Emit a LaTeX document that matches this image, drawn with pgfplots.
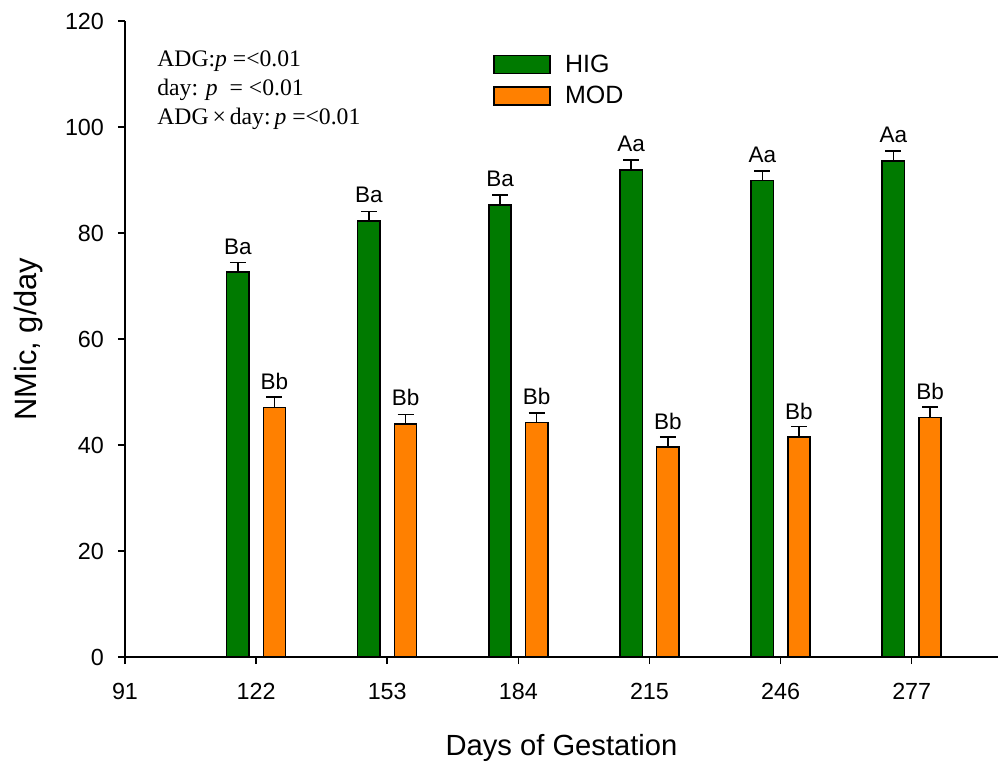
\documentclass[border=0pt]{standalone}
\usepackage{pgfplots}
\pgfplotsset{compat=1.18}
\usepackage{pgfplotstable}
\usepackage{fontspec}
\setmainfont{Liberation Sans}
\newfontfamily\seriffont{Liberation Serif}

\definecolor{higgreen}{RGB}{0,122,0}
\definecolor{modorange}{RGB}{255,128,0}

% Microbial N flow by day of gestation: mean, SE and letter groups
\pgfplotstableread{
day hig higerr higlab mod moderr modlab
122 72.6 1.8 Ba 47.1 2.0 Bb
153 82.3 1.8 Ba 44.0 1.8 Bb
184 85.3 1.9 Ba 44.2 1.8 Bb
215 91.9 1.9 Aa 39.6 1.9 Bb
246 89.9 1.8 Aa 41.5 2.0 Bb
277 93.6 1.9 Aa 45.2 2.0 Bb
}\nmic

\pgfplotsset{
  boxlegend/.style={
    legend image code/.code={%
      \draw[##1,draw=black,line width=0.9pt] (0pt,-5.4pt) rectangle (33.6pt,5.4pt);}},
}

\begin{document}
\begin{tikzpicture}
\useasboundingbox (0,0) rectangle (599.4pt,457.8pt);
\begin{axis}[
  at={(75pt,63.6pt)}, anchor=south west,
  width=523.8pt, height=381.6pt, scale only axis,
  xmin=91, xmax=297.4, ymin=0, ymax=120,
  xtick={91,122,153,184,215,246,277},
  ytick={0,20,40,60,80,100,120},
  axis x line*=bottom, axis y line*=left,
  axis line style={line width=0.9pt,-},
  tick style={line width=0.9pt,black},
  tick align=outside, major tick length=4.2pt,
  /pgf/number format/assume math mode=true,
  ticklabel style={font=\fontsize{14}{14}\selectfont},
  xticklabel style={yshift=-8pt},
  yticklabel style={xshift=-4.9pt},
  xlabel={Days of Gestation},
  ylabel={NMic, g/day},
  xlabel style={at={(axis description cs:0.5,-0.143)}, anchor=center,
    font=\fontsize{17.5}{17.5}\selectfont},
  ylabel style={at={(axis description cs:-0.11,0.5)}, anchor=center,
    font=\fontsize{18.5}{18.5}\selectfont},
  legend style={at={(axis description cs:0.4215,0.953)}, anchor=north west,
    draw=none, fill=none, inner sep=0pt, row sep=3pt,
    font=\fontsize{15}{15}\selectfont,
    /tikz/every odd column/.append style={column sep=6.6pt}},
  legend cell align=left,
  ybar, bar width=13.4pt,
  nodes near coords,
  point meta=explicit symbolic,
  every node near coord/.append style={anchor=south, inner sep=0pt, yshift=10.2pt,
    font=\fontsize{13.5}{13.5}\selectfont, black},
  error bars/y dir=plus, error bars/y explicit,
  error bars/error bar style={line width=0.9pt, black},
  error bars/error mark options={line width=0.9pt, black, mark size=4.8pt, rotate=90},
]
\addplot[fill=higgreen, draw=black, line width=0.9pt, bar shift=-11pt, boxlegend]
  table[x=day, y=hig, y error=higerr, meta=higlab] {\nmic};
\addlegendentry{HIG}
\addplot[fill=modorange, draw=black, line width=0.9pt, bar shift=11pt, boxlegend]
  table[x=day, y=mod, y error=moderr, meta=modlab] {\nmic};
\addlegendentry{MOD}
\end{axis}
\node[anchor=north west, inner sep=0pt, align=left,
  font=\seriffont\fontsize{14.2}{17.4}\selectfont] at (94.2pt,427.5pt)
  {ADG:\textit{p} =<0.01\\
   day: \textit{p}~ = <0.01\\
   ADG\,×\,day:\,\textit{p} =<0.01};
\end{tikzpicture}
\end{document}
